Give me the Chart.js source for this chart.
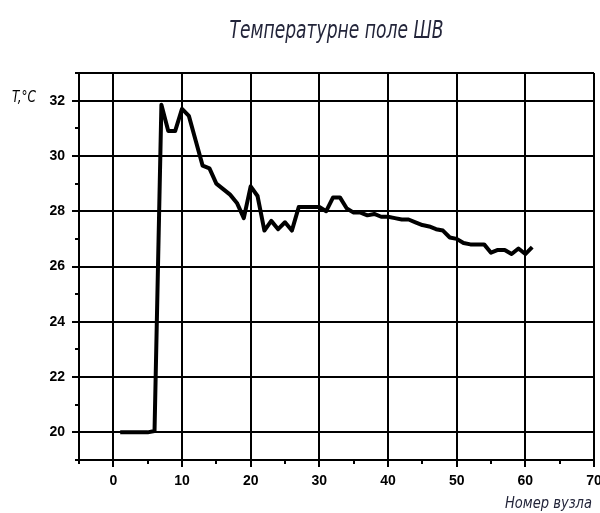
<!DOCTYPE html>
<html lang="uk">
<head>
    <meta charset="UTF-8">
    <title>Температурне поле ШВ</title>
    <script src="https://cdn.jsdelivr.net/npm/chart.js@4.4.0/dist/chart.umd.min.js"></script>
    <style>
        html, body { margin: 0; padding: 0; background: #fff; }
        #wrap { width: 600px; height: 513px; }
    </style>
</head>
<body>
<div id="wrap"><canvas id="tempChart" width="600" height="513"></canvas></div>
<script>
    // номери вузлів і температура в них
    const nodes = [1, 2, 3, 4, 5, 6, 7, 8, 9, 10,
        11, 12, 13, 14, 15, 16, 17, 18, 19, 20,
        21, 22, 23, 24, 25, 26, 27, 28, 29, 30,
        31, 32, 33, 34, 35, 36, 37, 38, 39, 40,
        41, 42, 43, 44, 45, 46, 47, 48, 49, 50,
        51, 52, 53, 54, 55, 56, 57, 58, 59, 60, 61];
    const temps = [20, 20, 20, 20, 20, 20.05, 31.85, 30.9, 30.9, 31.7,
        31.45, 30.55, 29.65, 29.55, 29.0, 28.8, 28.6, 28.3, 27.75, 28.9,
        28.55, 27.3, 27.65, 27.35, 27.6, 27.3, 28.15, 28.15, 28.15, 28.15,
        28.0, 28.5, 28.5, 28.1, 27.95, 27.95, 27.85, 27.9, 27.8, 27.8,
        27.75, 27.7, 27.7, 27.6, 27.5, 27.45, 27.35, 27.3, 27.05, 27.0,
        26.85, 26.8, 26.8, 26.8, 26.5, 26.6, 26.6, 26.45, 26.65, 26.45, 26.7];

    const titleText = 'Температурне поле ШВ';
    const xTitle = 'Номер вузла';
    const yTitle = 'T,°C';

    const narrow = '"Liberation Sans Narrow", "DejaVu Sans Condensed", "Noto Sans", sans-serif';

    // вузький курсив: текст стискається по ширині
    function squeezed(ctx, text, x, y, width, align) {
        const w = ctx.measureText(text).width;
        const k = Math.min(1, width / w);
        ctx.save();
        ctx.translate(x, y);
        ctx.scale(k, 1);
        ctx.textAlign = align;
        ctx.fillText(text, 0, 0);
        ctx.restore();
    }

    // підписи, дрібні та великі риски
    const decor = {
        id: 'decor',
        afterDraw(chart) {
            const ctx = chart.ctx;
            const a = chart.chartArea;
            const xs = chart.scales.x, ys = chart.scales.y;
            ctx.save();
            ctx.strokeStyle = '#000';
            ctx.lineWidth = 2;
            ctx.beginPath();
            ys.ticks.forEach(t => {
                const py = Math.round(ys.getPixelForValue(t.value));
                const len = t.value % 2 === 0 ? 7 : 4;
                ctx.moveTo(a.left - len, py);
                ctx.lineTo(a.left, py);
            });
            xs.ticks.forEach(t => {
                const px = Math.round(xs.getPixelForValue(t.value));
                const len = t.value % 10 === 0 ? 7 : 4;
                ctx.moveTo(px, a.bottom);
                ctx.lineTo(px, a.bottom + len);
            });
            ctx.stroke();

            ctx.textBaseline = 'alphabetic';
            ctx.fillStyle = '#23253a';
            ctx.font = 'italic 25px ' + narrow;
            squeezed(ctx, titleText, (a.left + a.right) / 2, 38, 214, 'center');

            ctx.font = 'italic 16px ' + narrow;
            squeezed(ctx, xTitle, 592, 508, 87, 'right');

            ctx.fillStyle = '#000';
            ctx.font = 'italic 15px ' + narrow;
            squeezed(ctx, yTitle, 12, 102, 24, 'left');
            ctx.restore();
        }
    };

    const tickFont = { family: '"Liberation Sans", Arial, sans-serif', size: 14, weight: 'bold' };

    const ctx = document.getElementById('tempChart').getContext('2d');
    new Chart(ctx, {
        type: 'line',
        data: {
            datasets: [{
                data: nodes.map((n, i) => ({ x: n, y: temps[i] })),
                borderColor: '#000',
                borderWidth: 4,
                borderJoinStyle: 'round',
                pointRadius: 0,
                tension: 0,
                fill: false
            }]
        },
        options: {
            responsive: false,
            animation: false,
            layout: { padding: { left: 0, right: 6, top: 73, bottom: 0 } },
            plugins: { legend: { display: false }, tooltip: { enabled: false } },
            scales: {
                x: {
                    type: 'linear',
                    min: -5, max: 70,
                    afterFit: s => { s.height = 53; s.paddingRight = 0; s.paddingLeft = 0; },
                    border: { color: '#000', width: 2 },
                    grid: {
                        drawTicks: false,
                        lineWidth: 2,
                        color: c => (c.tick && c.tick.value % 10 === 0) ? '#000' : 'rgba(0,0,0,0)'
                    },
                    ticks: {
                        stepSize: 5,
                        padding: 13,
                        maxRotation: 0,
                        color: '#000',
                        font: tickFont,
                        callback: v => v % 10 === 0 ? v : ''
                    }
                },
                y: {
                    min: 19, max: 33,
                    afterFit: s => { s.width = 79; s.paddingTop = 0; s.paddingBottom = 0; },
                    border: { color: '#000', width: 2 },
                    grid: {
                        drawTicks: false,
                        lineWidth: 2,
                        color: c => (c.tick && (c.tick.value % 2 === 0 || c.tick.value === 33)) ? '#000' : 'rgba(0,0,0,0)'
                    },
                    ticks: {
                        stepSize: 1,
                        padding: 14,
                        color: '#000',
                        font: tickFont,
                        callback: v => v % 2 === 0 ? v : ''
                    }
                }
            }
        },
        plugins: [decor]
    });
</script>
</body>
</html>
